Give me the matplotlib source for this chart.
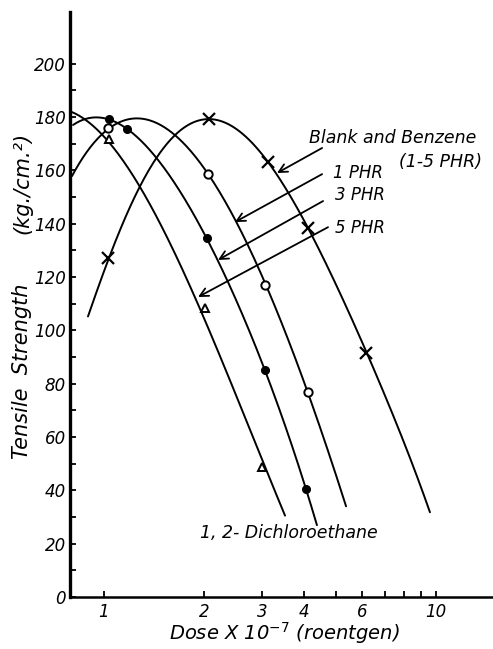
import numpy as np
import matplotlib
matplotlib.use("Agg")
import matplotlib.pyplot as plt
from matplotlib.ticker import FixedLocator, FixedFormatter, NullFormatter

# Measured tensile strength (kg/cm^2) against dose (x 10^7 roentgen)
blank_dose = [1.03, 2.07, 3.12, 4.12, 6.16]
blank_ts = [127.1, 179.4, 163.1, 138.4, 91.5]

phr1_dose = [1.03, 2.06, 3.05, 4.12]
phr1_ts = [176.0, 158.6, 117.0, 77.0]

phr3_dose = [1.035, 1.17, 2.05, 3.05, 4.06]
phr3_ts = [179.2, 175.7, 134.5, 85.1, 40.5]

phr5_dose = [1.035, 2.01, 2.99]
phr5_ts = [171.7, 108.4, 48.7]

# Hand-fitted curves through each series
blank_fit_dose = [0.895, 1.028, 1.141, 1.266, 1.424, 1.602, 1.841, 2.086,
                  2.396, 2.696, 3.119, 4.117, 6.155, 7.79, 9.59]
blank_fit_ts = [104.6, 127.1, 141.4, 151.5, 162.7, 172.5, 177.7, 179.6,
                177.0, 172.5, 163.1, 138.4, 91.5, 62.6, 31.5]

phr1_fit_dose = [0.801, 0.877, 0.959, 1.057, 1.302, 1.526, 1.754, 2.057,
                 2.48, 3.05, 3.56, 4.12, 4.79, 5.36]
phr1_fit_ts = [157.5, 166.5, 172.5, 176.2, 178.1, 176.2, 171.4, 158.6,
               140.6, 117.0, 99.0, 77.0, 51.4, 34.5]

phr3_fit_dose = [0.807, 1.028, 1.173, 1.395, 1.602, 2.043, 3.054,
                 3.56, 4.06, 4.38]
phr3_fit_ts = [177.0, 179.2, 175.9, 166.5, 156.4, 134.6, 85.1,
               61.9, 40.5, 27.0]

phr5_fit_dose = [0.801, 0.877, 0.959, 1.102, 1.214, 1.376, 1.987, 2.568, 3.51]
phr5_fit_ts = [181.5, 178.9, 175.1, 167.6, 159.0, 146.2, 103.9, 73.9, 30.0]

x_tick_values = [1, 2, 3, 4, 6, 10]
x_tick_labels = ["1", "2", "3", "4", "6", "10"]
x_minor_values = [5, 7, 8, 9]
y_tick_values = list(range(0, 201, 20))
y_minor_values = list(range(10, 200, 20))

TEXT = dict(family="DejaVu Sans", style="italic", color="black")


def smooth_curve(dose, ts, deg=4, n=300):
    """Least-squares polynomial in log(dose) over the traced span."""
    u = np.log10(dose)
    coef = np.polyfit(u, ts, deg)
    uu = np.linspace(u[0], u[-1], n)
    return 10 ** uu, np.polyval(coef, uu)


fig = plt.figure(figsize=(4.93, 6.49), dpi=100)
ax = fig.add_axes([70 / 493, 52 / 649, 423 / 493, 585 / 649])
ax.set_xscale("log")
ax.set_xlim(0.790, 14.85)
ax.set_ylim(0, 219.4)

for sp in ("top", "right"):
    ax.spines[sp].set_visible(False)
ax.spines["left"].set_linewidth(2.4)
ax.spines["bottom"].set_linewidth(1.8)

ax.xaxis.set_major_locator(FixedLocator(x_tick_values))
ax.xaxis.set_major_formatter(FixedFormatter(x_tick_labels))
ax.xaxis.set_minor_locator(FixedLocator(x_minor_values))
ax.xaxis.set_minor_formatter(NullFormatter())
ax.yaxis.set_major_locator(FixedLocator(y_tick_values))
ax.yaxis.set_minor_locator(FixedLocator(y_minor_values))
ax.tick_params(axis="both", which="both", direction="in", length=4, width=1.3)
ax.tick_params(axis="x", which="major", pad=4, labelsize=12)
ax.tick_params(axis="y", which="major", pad=3, labelsize=12)
for lab in ax.get_xticklabels() + ax.get_yticklabels():
    lab.set_fontstyle("italic")

# fitted curves
for fd, ft, dg in [(blank_fit_dose, blank_fit_ts, 5),
                   (phr1_fit_dose, phr1_fit_ts, 4),
                   (phr3_fit_dose, phr3_fit_ts, 4),
                   (phr5_fit_dose, phr5_fit_ts, 3)]:
    cx, cy = smooth_curve(fd, ft, dg)
    ax.plot(cx, cy, color="black", lw=1.4, solid_capstyle="round", zorder=2)

# measured points
ax.plot(blank_dose, blank_ts, ls="none", marker="x", ms=8, mew=1.6,
        color="black", zorder=3)
ax.plot(phr1_dose, phr1_ts, ls="none", marker="o", ms=6, mew=1.4,
        mfc="white", mec="black", zorder=3)
ax.plot(phr3_dose, phr3_ts, ls="none", marker="o", ms=5.5, mew=1.0,
        mfc="black", mec="black", zorder=3)
ax.plot(phr5_dose, phr5_ts, ls="none", marker="^", ms=6, mew=1.4,
        mfc="white", mec="black", zorder=3)

# curve labels with pointer arrows
arrow = dict(arrowstyle="->,head_length=0.6,head_width=0.3", lw=1.3,
             color="black", shrinkA=0, shrinkB=0)
ax.text(7.42, 172.1, "Blank and Benzene", ha="center", va="center",
        fontsize=12.5, **TEXT)
ax.text(10.35, 163.1, "(1-5 PHR)", ha="center", va="center",
        fontsize=12.5, **TEXT)
ax.annotate("", xy=(3.32, 159.0), xytext=(4.54, 168.4), arrowprops=arrow)

ax.text(4.90, 159.0, "1 PHR", ha="left", va="center", fontsize=12, **TEXT)
ax.annotate("", xy=(2.48, 140.6), xytext=(4.54, 158.6), arrowprops=arrow)

ax.text(4.96, 150.7, "3 PHR", ha="left", va="center", fontsize=12, **TEXT)
ax.annotate("", xy=(2.205, 126.4), xytext=(4.57, 148.5), arrowprops=arrow)

ax.text(4.96, 138.4, "5 PHR", ha="left", va="center", fontsize=12, **TEXT)
ax.annotate("", xy=(1.92, 112.5), xytext=(4.73, 138.7), arrowprops=arrow)

ax.text(1.95, 24.0, "1, 2- Dichloroethane", ha="left", va="center",
        fontsize=12.5, **TEXT)

# axis titles
fig.text(284 / 493, 3 / 649, "Dose X 10$^{-7}$ (roentgen)",
         ha="center", va="bottom", fontsize=14, **TEXT)
fig.text(22 / 493, 1 - 371 / 649, "Tensile  Strength",
         ha="center", va="center", rotation=90, fontsize=15, **TEXT)
fig.text(22 / 493, 1 - 183 / 649, "(kg./cm.²)",
         ha="center", va="center", rotation=90, fontsize=15, **TEXT)

fig.savefig("out.png", dpi=100)
